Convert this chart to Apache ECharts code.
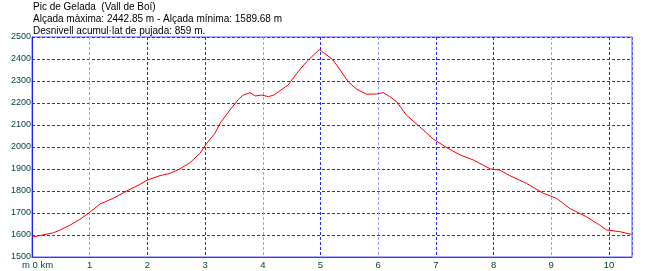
<!DOCTYPE html>
<html><head><meta charset="utf-8">
<script src="https://cdn.jsdelivr.net/npm/echarts@6/dist/echarts.min.js"></script>
<style>html,body{margin:0;padding:0;background:#fff}#c{width:648px;height:271px}</style>
</head><body><div id="c"></div>
<script>
const titleLines = [
  'Pic de Gelada  (Vall de Boí)',
  'Alçada màxima: 2442.85 m - Alçada mínima: 1589.68 m',
  'Desnivell acumul·lat de pujada: 859 m.'
];
const distanceKm = [0,0.2,0.37,0.49,0.66,0.83,0.99,1.18,1.41,1.64,1.87,2.0,2.22,2.39,2.56,2.74,2.91,3.03,3.17,3.26,3.43,3.58,3.66,3.78,3.87,3.98,4.1,4.19,4.3,4.44,4.59,4.76,4.9,4.98,5.11,5.22,5.34,5.48,5.63,5.8,5.97,6.09,6.2,6.32,6.49,6.72,6.96,7.19,7.42,7.65,7.95,8.11,8.28,8.57,8.86,9.09,9.32,9.61,9.84,9.96,10.19,10.39,10.4];
const elevationM = [1590,1601,1610,1623,1645,1671,1701,1741,1767,1800,1830,1850,1870,1880,1900,1929,1971,2017,2062,2108,2168,2217,2236,2247,2232,2236,2229,2236,2256,2282,2335,2388,2423,2443,2418,2395,2350,2297,2262,2240,2241,2247,2229,2206,2145,2092,2035,1997,1964,1941,1900,1895,1870,1835,1790,1767,1721,1683,1645,1623,1615,1603,1602];
const xTickLabels = ['m 0 km','1','2','3','4','5','6','7','8','9','10'];
const yMin = 1500, yMax = 2500, yStep = 100;
const xMin = 0, xMax = 10.4, xStep = 1;

const font = 'Liberation Sans, Arial, sans-serif';
const labelColor = '#003c3c';
const dark = '#2a2aff', light = '#a0a0ff';
const chart = echarts.init(document.getElementById('c'), null, {renderer:'canvas'});
chart.setOption({
  animation:false,
  backgroundColor:'#fff',
  title:{
    text: titleLines.join('\n'),
    left:33, top:1, padding:0,
    textStyle:{fontSize:10, fontWeight:'normal', color:'#000', lineHeight:12, fontFamily:font}
  },
  grid:{left:32, top:37, right:16, bottom:14, show:true, borderColor:'#5a5aff', borderWidth:1, backgroundColor:'transparent'},
  xAxis:{
    type:'value', min:xMin, max:xMax, interval:xStep,
    axisLine:{show:true, lineStyle:{color:'#3a3aff', width:1}},
    axisTick:{show:false},
    splitLine:{show:true, lineStyle:{type:[3,2], width:1,
      color:[dark,light,dark,dark,light,dark,light,dark,dark,light,dark,'#5a5aff']}},
    axisLabel:{
      showMaxLabel:false, margin:3, fontSize:9.5, color:labelColor, fontFamily:font,
      formatter:function(v){ const i = Math.round(v); if (Math.abs(v-i)>1e-6) return ''; return i===0 ? '{a|'+xTickLabels[0]+'}' : xTickLabels[i]; },
      rich:{a:{padding:[0,0,0,11], fontSize:9.5, color:labelColor, fontFamily:font}}
    }
  },
  yAxis:{
    type:'value', min:yMin, max:yMax, interval:yStep,
    axisLine:{show:true, lineStyle:{color:'#1a1aff', width:1}},
    axisTick:{show:false},
    splitLine:{show:true, lineStyle:{type:[3,2], width:1, color:dark}},
    axisLabel:{margin:1, fontSize:9, color:labelColor, fontFamily:font, padding:[0,0,5,0],
      formatter:function(v){ return String(v); }}
  },
  series:[{
    type:'line', data: distanceKm.map((d,i)=>[d, elevationM[i]]),
    showSymbol:false, symbol:'none', smooth:false,
    lineStyle:{color:'#ff0000', width:1}
  }]
});
</script></body></html>
